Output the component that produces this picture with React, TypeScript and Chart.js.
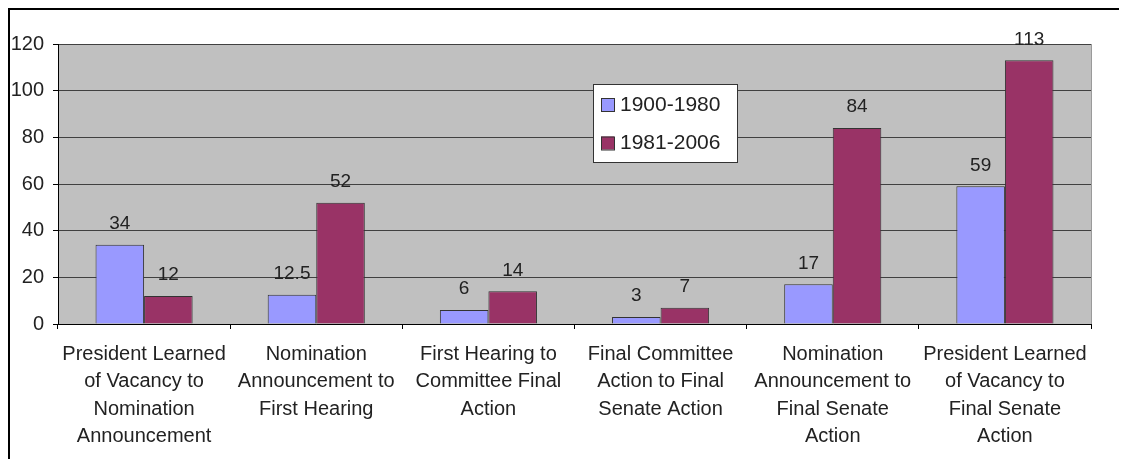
import React, { useEffect, useRef } from "react";
import { Chart, registerables } from "chart.js";

Chart.register(...registerables);

const categories: string[][] = [
  ["President Learned", "of Vacancy to", "Nomination", "Announcement"],
  ["Nomination", "Announcement to", "First Hearing"],
  ["First Hearing to", "Committee Final", "Action"],
  ["Final Committee", "Action to Final", "Senate Action"],
  ["Nomination", "Announcement to", "Final Senate", "Action"],
  ["President Learned", "of Vacancy to", "Final Senate", "Action"],
];
const series1Name = "1900-1980";
const series1: number[] = [34, 12.5, 6, 3, 17, 59];
const series2Name = "1981-2006";
const series2: number[] = [12, 52, 14, 7, 84, 113];
const yTicks = { min: 0, max: 120, step: 20 };

const FONT = '"Liberation Sans", Arial, Helvetica, sans-serif';
const TEXT = "#222";

const plotBg = {
  id: "plotBg",
  beforeDraw(chart: any) {
    const { ctx, chartArea: a } = chart;
    ctx.save();
    ctx.fillStyle = "#c0c0c0";
    ctx.fillRect(a.left, a.top, a.right - a.left, a.bottom - a.top);
    ctx.strokeStyle = "#9a9a9a";
    ctx.lineWidth = 1;
    ctx.beginPath();
    ctx.moveTo(a.right + 0.5, a.top);
    ctx.lineTo(a.right + 0.5, a.bottom);
    ctx.stroke();
    ctx.restore();
  },
};

const valueLabels = {
  id: "valueLabels",
  afterDatasetsDraw(chart: any) {
    const { ctx } = chart;
    ctx.save();
    ctx.font = `19px ${FONT}`;
    ctx.fillStyle = TEXT;
    ctx.textAlign = "center";
    ctx.textBaseline = "middle";
    chart.data.datasets.forEach((ds: any, i: number) => {
      const meta = chart.getDatasetMeta(i);
      meta.data.forEach((el: any, j: number) => {
        ctx.fillText(String(ds.data[j]), el.x, el.y - 21);
      });
    });
    ctx.restore();
  },
};

const boxLegend = {
  id: "boxLegend",
  afterDraw(chart: any) {
    const { ctx } = chart;
    const x = 583, y = 74, w = 144, h = 78;
    ctx.save();
    ctx.fillStyle = "#fff";
    ctx.fillRect(x, y, w, h);
    ctx.strokeStyle = "#333";
    ctx.lineWidth = 1;
    ctx.strokeRect(x + 0.5, y + 0.5, w, h);
    ctx.font = `21px ${FONT}`;
    ctx.textBaseline = "middle";
    ctx.textAlign = "left";
    chart.data.datasets.forEach((ds: any, i: number) => {
      const cy = 95 + i * 38.5;
      ctx.fillStyle = ds.backgroundColor;
      ctx.fillRect(591, cy - 7, 13, 13);
      ctx.strokeStyle = "#333";
      ctx.strokeRect(591.5, cy - 6.5, 13, 13);
      ctx.fillStyle = TEXT;
      ctx.fillText(ds.label, 610, cy);
    });
    ctx.restore();
  },
};

export default function App() {
  const ref = useRef<HTMLCanvasElement>(null);
  useEffect(() => {
    document.documentElement.style.overflow = "hidden";
    document.body.style.overflow = "hidden";
    if (!ref.current) return;
    Chart.defaults.font.family = FONT;
    const chart = new Chart(ref.current, {
      type: "bar",
      data: {
        labels: categories,
        datasets: [
          {
            label: series1Name,
            data: series1,
            backgroundColor: "#9999ff",
            borderColor: "#333",
            borderWidth: 1,
            categoryPercentage: 0.564,
            barPercentage: 1,
          },
          {
            label: series2Name,
            data: series2,
            backgroundColor: "#993366",
            borderColor: "#333",
            borderWidth: 1,
            categoryPercentage: 0.564,
            barPercentage: 1,
          },
        ],
      },
      options: {
        responsive: false,
        animation: false,
        layout: { padding: { left: 0, top: 34, right: 36, bottom: 0 } },
        plugins: { legend: { display: false }, tooltip: { enabled: false } },
        scales: {
          x: {
            afterFit: (s: any) => {
              s.height = 135;
            },
            border: { color: "#000", width: 1 },
            grid: {
              drawOnChartArea: false,
              drawTicks: true,
              tickLength: 5,
              tickColor: "#000",
              offset: true,
            },
            ticks: {
              color: TEXT,
              font: { size: 20, lineHeight: "27.3px" as any },
              padding: 12,
              maxRotation: 0,
              minRotation: 0,
              autoSkip: false,
            },
          },
          y: {
            min: yTicks.min,
            max: yTicks.max,
            afterFit: (s: any) => {
              s.width = 48;
            },
            border: { color: "#000", width: 1 },
            grid: {
              color: "#404040",
              lineWidth: 1,
              drawTicks: true,
              tickLength: 5,
              tickColor: "#000",
            },
            ticks: {
              stepSize: yTicks.step,
              color: TEXT,
              font: { size: 20 },
              padding: 9,
            },
          },
        },
      },
      plugins: [plotBg, valueLabels, boxLegend],
    });
    return () => chart.destroy();
  }, []);
  return (
    <div
      style={{
        width: 1119,
        height: 451,
        borderTop: "2px solid #000",
        borderLeft: "2px solid #000",
        boxSizing: "border-box",
        background: "#fff",
        overflow: "hidden",
      }}
    >
      <canvas ref={ref} width={1117} height={449} style={{ display: "block" }} />
    </div>
  );
}
